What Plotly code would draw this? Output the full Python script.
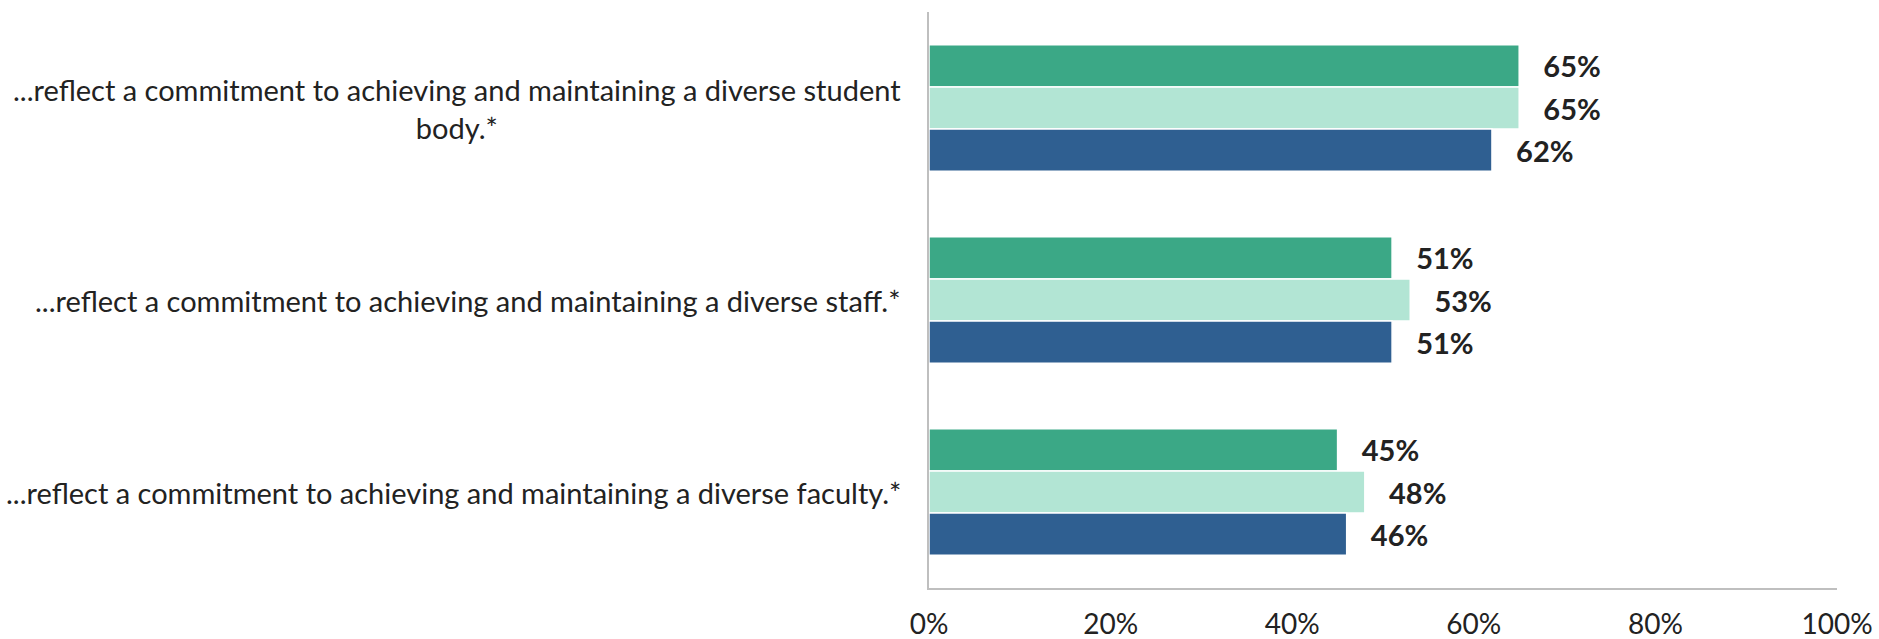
import plotly.graph_objects as go

# Survey statements (top to bottom) and the share agreeing in each group
categories = [
    "...reflect a commitment to achieving and maintaining a diverse student<br>body.*",
    "...reflect a commitment to achieving and maintaining a diverse staff.*",
    "...reflect a commitment to achieving and maintaining a diverse faculty.*",
]
series_names = ["Group A", "Group B", "Group C"]
series_values = [
    [65, 51, 45],
    [65, 53, 48],
    [62, 51, 46],
]
series_colors = ["#3BA886", "#B2E5D4", "#2F5F91"]
tick_values = [0, 20, 40, 60, 80, 100]
tick_labels = ["0%", "20%", "40%", "60%", "80%", "100%"]

FONT = "Lato, 'Open Sans', sans-serif"
PAD = "\u00a0\u00a0\u00a0"  # small gap between bar end and its value label

fig = go.Figure()
for name, vals, color in zip(series_names, series_values, series_colors):
    fig.add_trace(go.Bar(
        y=categories,
        x=vals,
        name=name,
        orientation="h",
        marker=dict(color=color, line=dict(color="white", width=1.5)),
        text=[f"{PAD}{v}%" for v in vals],
        textposition="outside",
        textfont=dict(family=FONT, size=29, color="#222222", weight="bold"),
        cliponaxis=False,
    ))

# Category labels drawn as centred multi-line annotations beside the axis
for cat in categories:
    fig.add_annotation(
        x=0, xref="paper", y=cat, yref="y",
        text=cat, showarrow=False,
        xanchor="right", xshift=-26, align="center",
        font=dict(family=FONT, size=29, color="#222222"),
    )

fig.update_layout(
    width=1879, height=639,
    margin=dict(l=929, r=42, t=12, b=51),
    paper_bgcolor="white", plot_bgcolor="white",
    barmode="group", bargap=0.34, bargroupgap=0.0,
    showlegend=False,
    font=dict(family=FONT, color="#222222"),
)
fig.update_xaxes(
    range=[0, 100], tickvals=tick_values, ticktext=tick_labels,
    showgrid=False, zeroline=False, automargin=False,
    showline=True, linecolor="#BFBFBF", linewidth=1.5,
    ticks="", ticklabelstandoff=11,
    tickfont=dict(family=FONT, size=28, color="#222222"),
)
fig.update_yaxes(
    autorange="reversed", showticklabels=False, automargin=False,
    showgrid=False, zeroline=False,
    showline=True, linecolor="#BFBFBF", linewidth=1.5, ticks="",
)

fig.write_html("out.html")
